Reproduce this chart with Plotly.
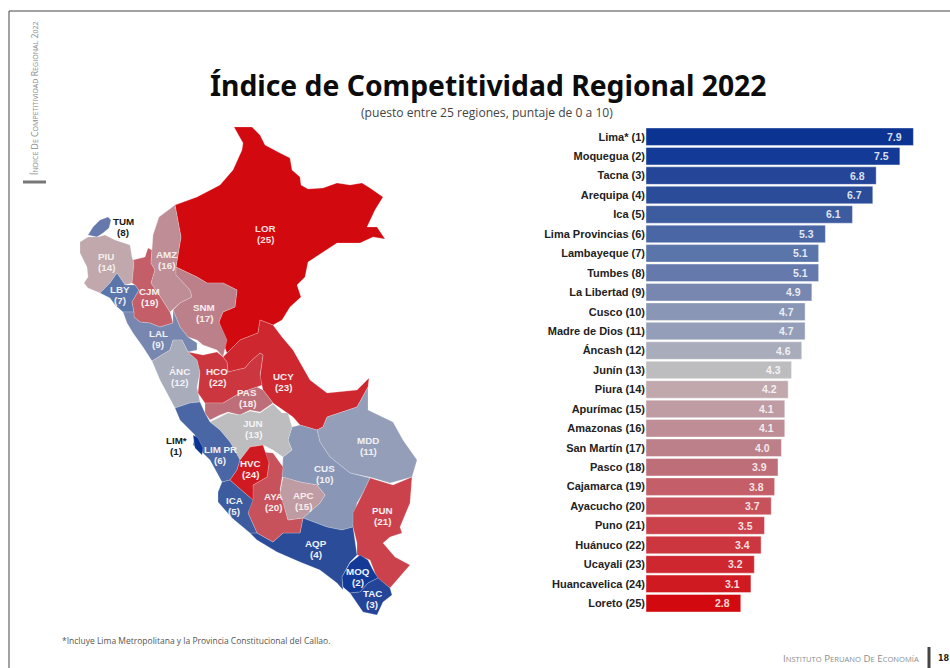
import plotly.graph_objects as go

# Ranking data
REGIONS = ["Lima* (1)", "Moquegua (2)", "Tacna (3)", "Arequipa (4)", "Ica (5)", "Lima Provincias (6)",
           "Lambayeque (7)", "Tumbes (8)", "La Libertad (9)", "Cusco (10)", "Madre de Dios (11)",
           "Áncash (12)", "Junín (13)", "Piura (14)", "Apurímac (15)", "Amazonas (16)", "San Martín (17)",
           "Pasco (18)", "Cajamarca (19)", "Ayacucho (20)", "Puno (21)", "Huánuco (22)", "Ucayali (23)",
           "Huancavelica (24)", "Loreto (25)"]
SCORES = [7.9, 7.5, 6.8, 6.7, 6.1, 5.3, 5.1, 5.1, 4.9, 4.7, 4.7, 4.6, 4.3, 4.2, 4.1, 4.1, 4.0, 3.9, 3.8,
          3.7, 3.5, 3.4, 3.2, 3.1, 2.8]
RANK_COLORS = ["#0B3391", "#133A97", "#244598", "#2A4C99", "#3D5C9F", "#4A66A4", "#5A75AA", "#6579AD",
               "#7887B0", "#8A96B5", "#959EB8", "#A8ACBB", "#BDBDBF", "#C0A8AD", "#BF9CA3", "#BE8D96",
               "#BC808A", "#BE6E78", "#C45E68", "#C8525C", "#CB424C", "#CC363F", "#CE2730", "#D01A22",
               "#D20A10"]

# Department outlines on the page grid
LOR = [(234,127),(252,127),(260,135),(265,145),(280,153),(290,158),(292,170),(300,177),(301,185),(308,189),(323,188),(337,183),(350,185),(362,183),(370,188),(383,197),(375,210),(367,227),(377,227),(385,239),(373,237),(360,243),(337,243),(323,252),(308,262),(305,277),(297,285),(301,297),(290,307),(282,320),(273,325),(260,320),(258,333),(240,340),(227,353),(223,343),(219,322),(223,312),(235,307),(237,290),(223,283),(207,283),(197,277),(176,267),(181,237),(175,205),(197,197),(220,185),(233,170),(242,150),(243,143)]
TUM = [(88,235),(93,227),(100,220),(108,217),(111,220),(109,228),(103,233),(97,237)]
PIU = [(80,242),(88,237),(98,237),(105,235),(115,240),(130,245),(132,257),(134,263),(132,283),(125,285),(117,273),(110,283),(100,293),(88,288),(84,283),(88,277),(87,267),(80,253)]
LBY = [(100,293),(110,283),(117,273),(125,285),(135,285),(139,290),(132,302),(134,312),(123,312),(115,305),(110,298)]
CJM = [(133,260),(145,257),(148,248),(152,250),(151,263),(155,270),(151,283),(158,293),(170,312),(173,323),(160,327),(150,323),(140,322),(134,317),(134,312),(132,302),(139,290),(135,285),(132,283),(134,263)]
AMZ = [(175,205),(181,237),(176,267),(176,275),(190,290),(192,297),(180,303),(173,310),(170,312),(158,293),(151,283),(155,270),(151,263),(152,250),(153,235),(159,217)]
SNM = [(176,267),(197,277),(207,283),(223,283),(237,290),(235,307),(223,312),(219,322),(227,340),(223,357),(217,350),(203,345),(197,340),(188,337),(180,327),(173,310),(180,303),(192,297),(190,290),(176,275)]
LAL = [(123,312),(134,312),(134,317),(140,322),(150,323),(160,327),(173,323),(173,310),(180,327),(188,337),(197,343),(197,350),(188,352),(182,340),(173,340),(170,350),(152,361),(143,347),(133,333),(127,323)]
ANC = [(152,361),(170,350),(173,340),(182,340),(188,352),(197,360),(200,372),(197,387),(200,402),(190,403),(175,408),(160,380)]
HCO = [(188,352),(203,355),(217,352),(223,357),(227,362),(228,372),(245,368),(250,362),(260,353),(263,355),(260,375),(262,385),(257,387),(240,393),(223,403),(205,403),(198,393),(200,372),(197,360)]
UCY = [(223,357),(227,353),(240,340),(258,333),(260,320),(273,325),(282,337),(293,350),(303,367),(310,380),(327,393),(357,390),(369,378),(368,387),(357,407),(327,417),(323,427),(317,430),(300,425),(293,417),(283,410),(273,403),(263,390),(260,377),(263,355),(260,353),(250,362),(245,368),(228,372),(227,362)]
PAS = [(205,403),(223,403),(240,393),(257,387),(263,390),(273,403),(260,412),(250,410),(240,415),(228,412),(220,415),(210,420),(205,413)]
JUN = [(210,422),(220,417),(228,413),(240,415),(250,411),(260,413),(273,404),(282,413),(288,413),(292,427),(288,440),(292,450),(283,457),(273,450),(263,445),(250,447),(240,460),(235,453),(230,442),(220,430)]
CUS = [(292,427),(300,425),(317,430),(320,442),(330,457),(350,473),(370,478),(363,493),(357,503),(353,527),(342,530),(327,527),(303,518),(320,503),(325,495),(317,485),(300,482),(282,477),(283,457),(292,450),(288,440)]
MDD = [(317,430),(323,427),(327,417),(357,407),(368,387),(368,410),(393,422),(403,440),(417,460),(412,477),(390,483),(373,478),(350,473),(330,457),(320,442)]
PUN = [(370,478),(393,485),(412,477),(410,497),(410,503),(400,527),(402,533),(390,537),(383,543),(395,557),(410,565),(403,573),(390,588),(377,578),(370,560),(357,555),(357,543),(353,527),(353,513),(363,493)]
AQP = [(303,518),(327,527),(342,530),(353,527),(357,555),(350,562),(342,577),(343,590),(337,583),(320,570),(300,562),(277,552),(257,540),(250,533),(257,533),(273,542),(283,533),(300,533)]
AYA = [(262,452),(273,453),(283,467),(282,478),(280,490),(288,520),(303,518),(300,533),(283,533),(273,542),(257,533),(248,513),(252,493),(253,485),(267,477),(269,463)]
APC = [(283,477),(300,482),(317,485),(325,495),(320,503),(303,518),(288,520),(280,493)]
HVC = [(250,447),(263,445),(269,463),(267,477),(253,485),(253,500),(238,487),(230,480),(237,470),(240,460)]
ICA = [(222,482),(230,480),(238,487),(253,500),(248,513),(257,533),(250,533),(232,518),(218,502),(218,492)]
LPR = [(175,408),(190,403),(200,402),(205,413),(210,422),(220,430),(230,442),(238,457),(240,460),(237,470),(230,480),(222,482),(210,460),(203,453),(193,445),(195,435),(180,420)]
LIM = [(193,435),(198,438),(203,448),(202,455),(195,448)]
MOQ = [(350,563),(360,555),(368,560),(373,570),(378,578),(368,583),(360,592),(350,593),(343,587),(342,577)]
TAC = [(378,578),(390,588),(392,595),(383,602),(377,615),(363,612),(350,593),(360,592),(368,583)]

# Department, rank in the index and outline
DEPARTMENTS = [("LOR", 25, LOR), ("TUM", 8, TUM), ("PIU", 14, PIU), ("LBY", 7, LBY), ("CJM", 19, CJM),
               ("AMZ", 16, AMZ), ("SNM", 17, SNM), ("LAL", 9, LAL), ("ANC", 12, ANC), ("UCY", 23, UCY),
               ("HCO", 22, HCO), ("PAS", 18, PAS), ("MDD", 11, MDD), ("CUS", 10, CUS), ("JUN", 13, JUN),
               ("PUN", 21, PUN), ("AQP", 4, AQP), ("AYA", 20, AYA), ("APC", 15, APC), ("LPR", 6, LPR),
               ("ICA", 5, ICA), ("HVC", 24, HVC), ("LIM", 1, LIM), ("MOQ", 2, MOQ), ("TAC", 3, TAC)]

# Map labels: code line, rank line, centre x, centre y, colour
MAP_LABELS = [("TUM", "(8)", 123, 227, "#1a1a1a"), ("PIU", "(14)", 106, 262, "#f4eeee"),
              ("AMZ", "(16)", 166, 260, "#f4eeee"), ("LBY", "(7)", 120, 295, "#eef1f8"),
              ("CJM", "(19)", 149, 297, "#f8eeee"), ("SNM", "(17)", 204, 313, "#f8eeee"),
              ("LAL", "(9)", 158, 339, "#eef1f8"), ("LOR", "(25)", 265, 234, "#f8dddd"),
              ("ÁNC", "(12)", 179, 377, "#f4f4f6"), ("HCO", "(22)", 217, 377, "#f8eeee"),
              ("UCY", "(23)", 283, 382, "#f8eeee"), ("PAS", "(18)", 247, 398, "#f8eeee"),
              ("JUN", "(13)", 253, 429, "#f4f4f4"), ("MDD", "(11)", 368, 446, "#f0f1f6"),
              ("CUS", "(10)", 324, 474, "#f0f1f6"), ("PUN", "(21)", 382, 516, "#f8eeee"),
              ("LIM PR", "(6)", 220, 455, "#eef1f8"), ("HVC", "(24)", 250, 469, "#f8eeee"),
              ("ICA", "(5)", 234, 506, "#eef1f8"), ("AYA", "(20)", 273, 502, "#f8eeee"),
              ("APC", "(15)", 303, 501, "#f8eeee"), ("AQP", "(4)", 316, 549, "#eef1f8"),
              ("MOQ", "(2)", 358, 577, "#eef1f8"), ("TAC", "(3)", 372, 599, "#eef1f8"),
              ("LIM*", "(1)", 176, 446, "#1a1a1a")]

FONT = "Liberation Sans"
fig = go.Figure()

for code, rank, outline in DEPARTMENTS:
    xs, ys = zip(*outline)
    fig.add_trace(go.Scatter(x=list(xs) + [xs[0]], y=list(ys) + [ys[0]], mode="lines", fill="toself",
                             fillcolor=RANK_COLORS[rank - 1],
                             line=dict(color="rgba(255,255,255,0.4)", width=0.5),
                             name=code, hoverinfo="name", showlegend=False, xaxis="x", yaxis="y"))

fig.add_trace(go.Bar(x=SCORES, y=REGIONS, orientation="h", width=0.9, xaxis="x2", yaxis="y2",
                     marker=dict(color=RANK_COLORS, line=dict(color="rgba(255,255,255,0.5)", width=0.8)),
                     showlegend=False, hovertemplate="%{y}: %{x}<extra></extra>"))

annotations = []
for code, rank_text, x, y, color in MAP_LABELS:
    for text, line_y in ((code, y - 5.6), (rank_text, y + 5.6)):
        annotations.append(dict(x=x, y=line_y, xref="x", yref="y", text=f"<b>{text}</b>", showarrow=False,
                                borderpad=0, font=dict(family=FONT, size=9.8, color=color)))
for region, score in zip(REGIONS, SCORES):
    annotations.append(dict(x=score, y=region, xref="x2", yref="y2", text=f"<b>{score:.1f}</b>", showarrow=False,
                            xanchor="right", xshift=-9, font=dict(family=FONT, size=10.5, color="rgba(255,255,255,0.85)")))


def page_text(text, x, y, size, color, family="Open Sans", xanchor="center", angle=0):
    return dict(x=x, y=y, xref="x", yref="y", text=text, showarrow=False, xanchor=xanchor, textangle=angle,
                font=dict(family=family, size=size, color=color))


def small_caps(text, small):
    # First letter of each word stays large, the rest shrink
    words = []
    for word in text.split(" "):
        if len(word) > 1:
            words.append(f'{word[0]}<span style="font-size:{small}px">{word[1:]}</span>')
        else:
            words.append(f'<span style="font-size:{small}px">{word}</span>')
    return " ".join(words)


annotations += [
    page_text("<b>Índice de Competitividad Regional 2022</b>", 488, 85, 28.3, "#0c0c0c", family="Noto Sans"),
    page_text("(puesto entre 25 regiones, puntaje de 0 a 10)", 487, 112, 12.1, "#444444"),
    page_text("*Incluye Lima Metropolitana y la Provincia Constitucional del Callao.", 60, 640, 8.5, "#555555", xanchor="left"),
    page_text(small_caps("ÍNDICE DE COMPETITIVIDAD REGIONAL 2022", 7.1), 35, 98, 8.7, "#8a8a8a", angle=-90),
    page_text(small_caps("INSTITUTO PERUANO DE ECONOMÍA", 7.6), 921, 658, 9.7, "#8c8c8c", xanchor="right"),
    page_text("<b>18</b>", 936, 658, 8, "#222222", family="DejaVu Sans", xanchor="left"),
]

shapes = [
    dict(type="line", xref="x", yref="y", x0=9, x1=9, y0=11, y1=668, line=dict(color="#444444", width=1)),
    dict(type="line", xref="x", yref="y", x0=9, x1=950, y0=11, y1=11, line=dict(color="#444444", width=1)),
    dict(type="line", xref="x", yref="y", x0=23, x1=46, y0=182, y1=182, line=dict(color="#777777", width=3)),
    dict(type="line", xref="x", yref="y", x0=929, x1=929, y0=647, y1=668, line=dict(color="#444444", width=3)),
]

fig.update_layout(
    width=950, height=668, margin=dict(l=0, r=0, t=0, b=0), paper_bgcolor="white", plot_bgcolor="rgba(0,0,0,0)",
    annotations=annotations, shapes=shapes, bargap=0.1,
    xaxis=dict(domain=[0, 1], range=[0, 950], visible=False, fixedrange=True),
    yaxis=dict(domain=[0, 1], range=[668, 0], visible=False, fixedrange=True),
    xaxis2=dict(domain=[646 / 950, 920 / 950], range=[0, 274 / 33.85], anchor="y2", visible=False, fixedrange=True),
    yaxis2=dict(domain=[1 - 613 / 668, 1 - 127 / 668], anchor="x2", type="category", categoryorder="array",
                categoryarray=REGIONS, autorange="reversed", showgrid=False, showline=False, ticks="",
                tickfont=dict(family=FONT, size=11, color="#222222"), ticklabelstandoff=0, fixedrange=True,
                tickprefix="<b>", ticksuffix="</b>"),
)

fig.write_html("out.html")
